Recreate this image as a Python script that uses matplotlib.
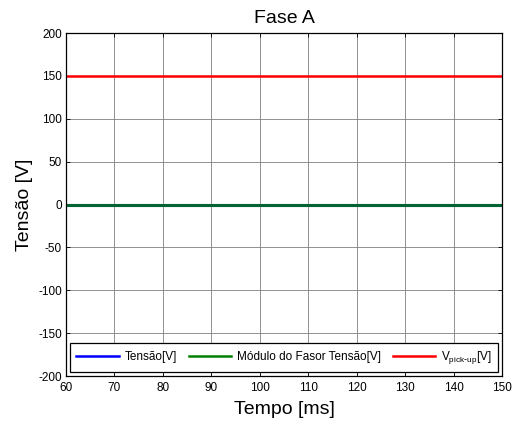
"""Fase A voltage plot."""

import matplotlib

matplotlib.use("Agg", force=True)

import matplotlib.pyplot as plt
import numpy as np

plt.rcParams["font.family"] = ["Liberation Sans", "DejaVu Sans"]
plt.rcParams["axes.unicode_minus"] = False

# data
tempo_ms = [60, 150]
tensao = [0, 0]
modulo_fasor = [0, 0]
v_pickup = [150, 150]

x_ticks = list(range(60, 151, 10))
y_ticks = list(range(-200, 201, 50))

fig = plt.figure(figsize=(5.16, 4.25), dpi=100)
ax = fig.add_axes([66 / 516, 1 - 376 / 425, 436 / 516, 343 / 425])

ax.plot(tempo_ms, tensao, color="#0000ff", linewidth=2.2, label="Tensão[V]")
ax.plot(tempo_ms, modulo_fasor, color="#007f00", linewidth=2.2, alpha=0.8,
        label="Módulo do Fasor Tensão[V]")
ax.plot(tempo_ms, v_pickup, color="#ff0000", linewidth=1.8,
        label="V$_{\\mathregular{pick\\text{-}up}}$[V]")

ax.set_xlim(60, 150)
ax.set_ylim(-200, 200)
ax.set_xticks(x_ticks)
ax.set_yticks(y_ticks)
ax.tick_params(direction="in", top=True, right=True, labelsize=8.5, length=3,
               width=0.6)
ax.tick_params(axis="x", pad=4)
ax.tick_params(axis="y", pad=3)
ax.grid(True, color="#808080", linewidth=0.6)
for spine in ax.spines.values():
    spine.set_linewidth(0.9)

ax.set_title("Fase A", fontsize=14, pad=7)
ax.set_xlabel("Tempo [ms]", fontsize=14, labelpad=5)
ax.set_ylabel("Tensão [V]", fontsize=14, labelpad=4)

leg = ax.legend(loc="lower center", ncol=3, fontsize=8.5, frameon=True,
                fancybox=False, edgecolor="black", framealpha=1,
                handlelength=3.6, handletextpad=0.5, columnspacing=1.0,
                borderaxespad=0.35, borderpad=0.5, bbox_to_anchor=(0.5, 0.0))
leg.get_frame().set_linewidth(0.9)
for handle in leg.legend_handles:
    handle.set_linewidth(1.8)
    handle.set_alpha(1)

fig.savefig("out.png", dpi=100)
plt.close(fig)
